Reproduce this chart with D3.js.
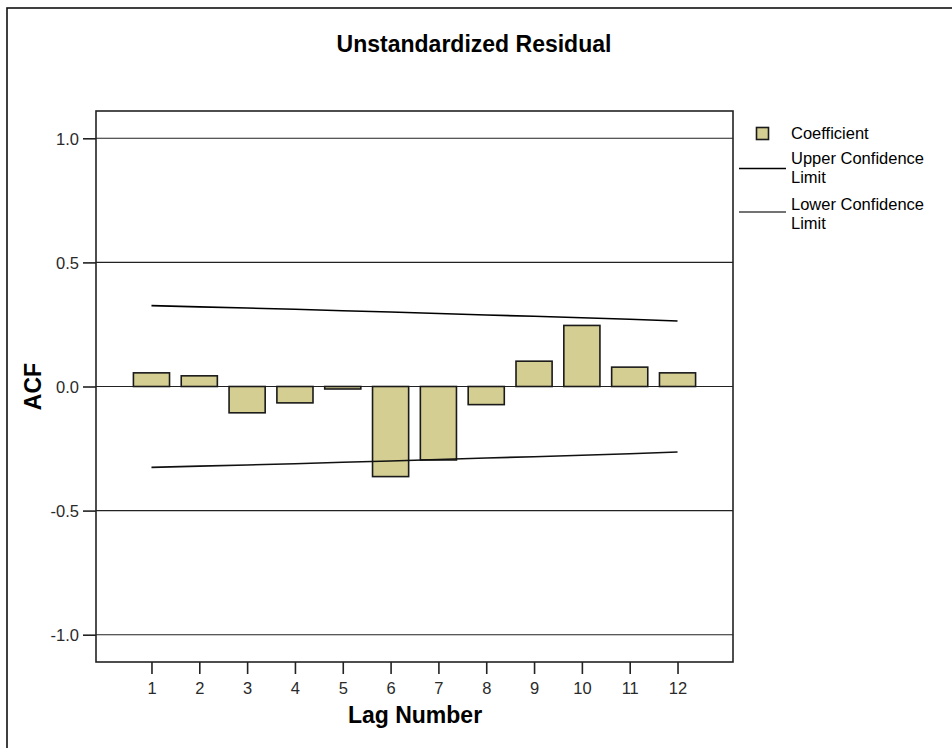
<!DOCTYPE html>
<html>
<head>
<meta charset="utf-8">
<script src="https://cdn.jsdelivr.net/npm/d3@7"></script>
<style>
  body { margin: 0; background: #fff; }
  svg { display: block; font-family: "Liberation Sans", Arial, sans-serif; }
</style>
</head>
<body>
<svg id="svg" width="952" height="748"></svg>
<script>
// ACF values
let lags = [1, 2, 3, 4, 5, 6, 7, 8, 9, 10, 11, 12];
let coefficient = [0.055, 0.043, -0.106, -0.066, -0.01, -0.363, -0.296, -0.073, 0.102, 0.246, 0.078, 0.055];
let upperLimit = [0.326, 0.321, 0.316, 0.311, 0.305, 0.300, 0.294, 0.288, 0.283, 0.277, 0.271, 0.264];
let lowerLimit = [-0.326, -0.321, -0.316, -0.311, -0.305, -0.300, -0.294, -0.288, -0.283, -0.277, -0.271, -0.264];
let yTicks = [-1.0, -0.5, 0.0, 0.5, 1.0];
let legendItems = ["Coefficient", "Upper Confidence|Limit", "Lower Confidence|Limit"];

let svg = d3.select("svg");
let plot = {left: 96, top: 111, right: 733, bottom: 662};

// outer border (runs off the right and bottom edges)
svg.append("rect")
  .attr("x", 7).attr("y", 8)
  .attr("width", 960).attr("height", 760)
  .attr("fill", "none")
  .attr("stroke", "#111")
  .attr("stroke-width", 1.6);

let x = d3.scaleLinear().domain([-0.16, 13.16]).range([plot.left, plot.right]);
let y = d3.scaleLinear().domain([-1.11, 1.11]).range([plot.bottom, plot.top]);

let data = lags.map((k, i) => ({lag: k, value: coefficient[i], upper: upperLimit[i], lower: lowerLimit[i]}));

// title
svg.append("text")
  .attr("x", 474).attr("y", 52)
  .attr("text-anchor", "middle")
  .attr("font-size", 23).attr("font-weight", "bold")
  .text("Unstandardized Residual");

let g = svg.append("g");

// reference lines at y ticks
g.selectAll("line.grid")
  .data(yTicks)
  .enter().append("line")
    .attr("class", "grid")
    .attr("x1", plot.left).attr("x2", plot.right)
    .attr("y1", d => y(d)).attr("y2", d => y(d))
    .attr("stroke", "#222")
    .attr("stroke-width", 1.1);

// bars
let barW = (x(1) - x(0)) * 0.755;
g.selectAll("rect.bar")
  .data(data)
  .enter().append("rect")
    .attr("class", "bar")
    .attr("x", d => x(d.lag) - barW / 2)
    .attr("y", d => y(Math.max(0, d.value)))
    .attr("width", barW)
    .attr("height", d => Math.abs(y(d.value) - y(0)))
    .attr("fill", "#d4ce92")
    .attr("stroke", "#1a1a1a")
    .attr("stroke-width", 1.6);

// confidence limits
let line = d3.line().x(d => x(d.lag));
g.append("path")
  .datum(data)
  .attr("fill", "none")
  .attr("stroke", "#000")
  .attr("stroke-width", 1.6)
  .attr("d", line.y(d => y(d.upper)));
g.append("path")
  .datum(data)
  .attr("fill", "none")
  .attr("stroke", "#111")
  .attr("stroke-width", 1.6)
  .attr("d", line.y(d => y(d.lower)));

// plot frame
g.append("rect")
  .attr("x", plot.left).attr("y", plot.top)
  .attr("width", plot.right - plot.left)
  .attr("height", plot.bottom - plot.top)
  .attr("fill", "none")
  .attr("stroke", "#222")
  .attr("stroke-width", 1.6);

// axes (plain hyphen for negatives, like the original)
let fmtY = d => d3.format(".1f")(d).replace("\u2212", "-");
let yAxis = g.append("g")
  .attr("transform", "translate(" + plot.left + ",0)")
  .call(d3.axisLeft(y).tickValues(yTicks).tickFormat(fmtY).tickSize(13).tickPadding(4));
let xAxis = g.append("g")
  .attr("transform", "translate(0," + plot.bottom + ")")
  .call(d3.axisBottom(x).tickValues(lags).tickFormat(d3.format("d")).tickSize(12).tickPadding(8));
[yAxis, xAxis].forEach(a => {
  a.select(".domain").remove();
  a.selectAll(".tick line").attr("stroke", "#222").attr("stroke-width", 1.6);
  a.selectAll(".tick text")
    .attr("fill", "#2a2a2a")
    .attr("font-size", 16.5)
    .attr("font-family", "Liberation Sans, Arial, sans-serif");
});
yAxis.selectAll(".tick text").attr("dy", "0.36em");

// axis titles
svg.append("text")
  .attr("x", (plot.left + plot.right) / 2 + 0.5).attr("y", 723)
  .attr("text-anchor", "middle")
  .attr("font-size", 23).attr("font-weight", "bold")
  .text("Lag Number");
svg.append("text")
  .attr("transform", "translate(41," + ((plot.top + plot.bottom) / 2) + ") rotate(-90)")
  .attr("text-anchor", "middle")
  .attr("font-size", 23).attr("font-weight", "bold")
  .text("ACF");

// legend
let legend = svg.append("g");
legend.append("rect")
  .attr("x", 756.5).attr("y", 127.5)
  .attr("width", 12).attr("height", 12)
  .attr("fill", "#d4ce92")
  .attr("stroke", "#1a1a1a")
  .attr("stroke-width", 1.6);
let legendY = [139, 164, 210];
let lineY = [null, 168.5, 212];
let lineColor = [null, "#000", "#444"];
legendItems.forEach((label, i) => {
  let parts = label.split("|");
  let t = legend.append("text")
    .attr("x", 791).attr("y", legendY[i])
    .attr("font-size", 16.5);
  parts.forEach((p, j) => {
    t.append("tspan").attr("x", 791).attr("dy", j == 0 ? 0 : 19).text(p);
  });
  if (lineY[i] != null) {
    legend.append("line")
      .attr("x1", 739).attr("x2", 786)
      .attr("y1", lineY[i]).attr("y2", lineY[i])
      .attr("stroke", lineColor[i])
      .attr("stroke-width", 1.6);
  }
});
</script>
</body>
</html>
